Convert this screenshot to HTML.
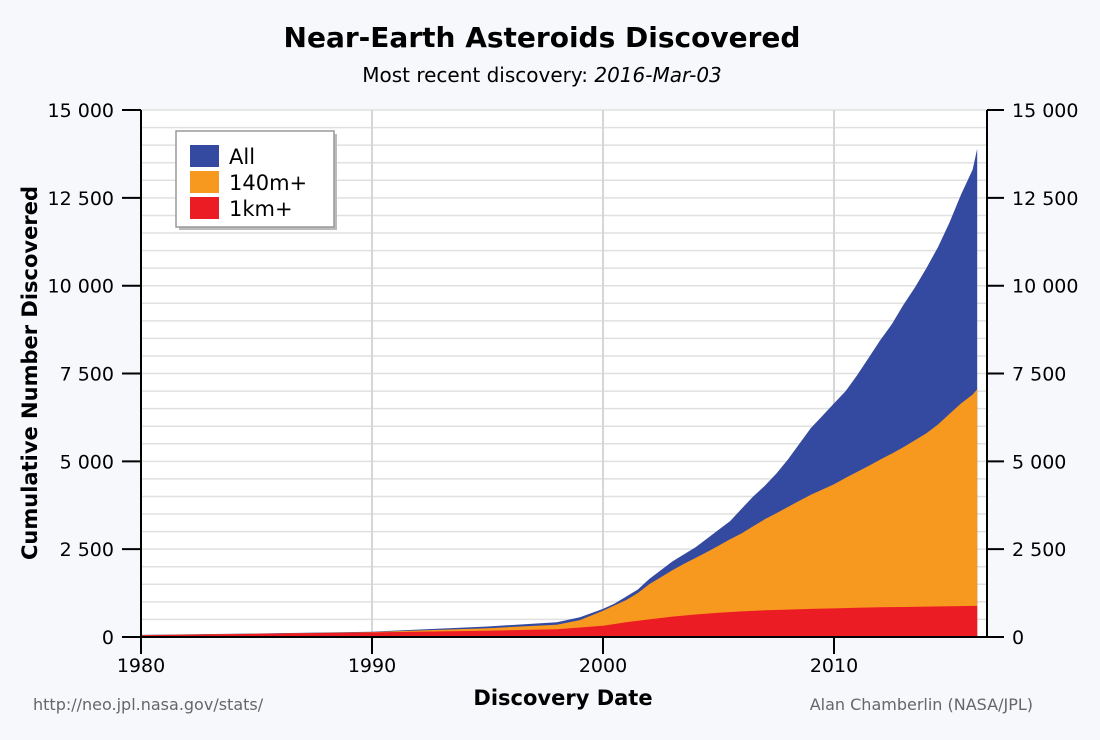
<!DOCTYPE html>
<html><head><meta charset="utf-8"><style>
html,body{margin:0;padding:0;background:#f7f8fc;}
svg{display:block;font-family:"DejaVu Sans","Liberation Sans",sans-serif;}
</style></head><body>
<svg id="s" width="1100" height="740" viewBox="0 0 1100 740">
<rect width="1100" height="740" fill="#f7f8fc"/>
<rect x="141" y="110" width="846" height="527" fill="#fff"/>
<g id="grid"></g>
<g id="areas"></g>
<line x1="141" y1="110" x2="141" y2="637" stroke="#000" stroke-width="2"/>
<line x1="987" y1="110" x2="987" y2="637" stroke="#000" stroke-width="2"/>
<line x1="122" y1="637" x2="1004" y2="637" stroke="#000" stroke-width="2"/>
<g id="ticks" font-size="19" fill="#000"></g>
<text x="542" y="47" text-anchor="middle" font-size="28" font-weight="bold">Near-Earth Asteroids Discovered</text>
<text x="542" y="82" text-anchor="middle" font-size="20">Most recent discovery: <tspan font-style="italic">2016-Mar-03</tspan></text>
<text x="563" y="705" text-anchor="middle" font-size="21" font-weight="bold">Discovery Date</text>
<text transform="translate(37,373) rotate(-90)" text-anchor="middle" font-size="21" font-weight="bold">Cumulative Number Discovered</text>
<text x="33" y="710" font-size="16" fill="#666">http://neo.jpl.nasa.gov/stats/</text>
<text x="1033" y="710" text-anchor="end" font-size="16" fill="#666">Alan Chamberlin (NASA/JPL)</text>
<rect x="179" y="134" width="158" height="96" fill="#bbb"/>
<rect x="176" y="131" width="158" height="96" fill="#fff" stroke="#999" stroke-width="1.5"/>
<rect x="190" y="145" width="29" height="22" fill="#344aa0"/>
<rect x="190" y="171" width="29" height="22" fill="#f7991f"/>
<rect x="190" y="197" width="29" height="22" fill="#ec1c24"/>
<text x="229" y="164" font-size="21">All</text>
<text x="229" y="190" font-size="21">140m+</text>
<text x="229" y="216" font-size="21">1km+</text>
</svg>
<script>
var X=function(y){return 141+(y-1980)*23.1},Y=function(v){return 637-v*0.03513};
var ns="http://www.w3.org/2000/svg";
function el(p,t,a){var e=document.createElementNS(ns,t);for(var k in a)e.setAttribute(k,a[k]);p.appendChild(e);return e;}
var g=document.getElementById('grid');
for(var v=500;v<=15000;v+=500)el(g,'line',{x1:141,x2:987,y1:Y(v),y2:Y(v),stroke:'#e0e0e0','stroke-width':1.5});
[1990,2000,2010].forEach(function(y){el(g,'line',{x1:X(y),x2:X(y),y1:110,y2:637,stroke:'#d6d6d6','stroke-width':2});});
var all=[[1980,60],[1985,100],[1990,150],[1995,300],[1998,420],[1999,560],[2000,800],[2000.5,950],[2001,1150],[2001.5,1350],[2002,1650],[2002.5,1900],[2003,2150],[2003.5,2350],[2004,2550],[2004.5,2800],[2005,3050],[2005.5,3300],[2006,3650],[2006.5,4000],[2007,4300],[2007.5,4650],[2008,5050],[2008.5,5500],[2009,5950],[2009.5,6300],[2010,6650],[2010.5,7000],[2011,7450],[2011.5,7950],[2012,8450],[2012.5,8900],[2013,9450],[2013.5,9950],[2014,10500],[2014.5,11100],[2015,11800],[2015.5,12600],[2016,13300],[2016.2,13900]];
var m=[[1980,55],[1985,95],[1990,140],[1995,250],[1998,350],[1999,480],[2000,750],[2000.5,900],[2001,1050],[2001.5,1250],[2002,1500],[2002.5,1700],[2003,1900],[2003.5,2080],[2004,2250],[2004.5,2420],[2005,2600],[2005.5,2780],[2006,2950],[2006.5,3150],[2007,3350],[2007.5,3520],[2008,3700],[2008.5,3880],[2009,4050],[2009.5,4200],[2010,4350],[2010.5,4530],[2011,4700],[2011.5,4870],[2012,5050],[2012.5,5220],[2013,5400],[2013.5,5600],[2014,5800],[2014.5,6050],[2015,6350],[2015.5,6650],[2016,6900],[2016.2,7050]];
var k=[[1980,50],[1985,90],[1990,130],[1995,180],[1998,220],[2000,320],[2001,420],[2002,500],[2003,580],[2004,640],[2005,690],[2006,730],[2007,760],[2008,780],[2009,800],[2010,815],[2011,830],[2012,845],[2013,855],[2014,865],[2015,875],[2016.2,885]];
var a=document.getElementById('areas');
[[all,'#344aa0'],[m,'#f7991f'],[k,'#ec1c24']].forEach(function(s){
 var d='M'+X(1980)+','+Y(0);s[0].forEach(function(p){d+=' L'+X(p[0]).toFixed(1)+','+Y(p[1]).toFixed(1);});
 d+=' L'+X(2016.2)+','+Y(0)+' Z';el(a,'path',{d:d,fill:s[1]});});
var t=document.getElementById('ticks');
for(var v=0;v<=15000;v+=2500){var y=Y(v),lab=v>=1000?(Math.floor(v/1000)+' '+String(v%1000).padStart(3,'0')):'0';
 el(t,'line',{x1:122,x2:141,y1:y,y2:y,stroke:'#000','stroke-width':2});
 el(t,'line',{x1:987,x2:1004,y1:y,y2:y,stroke:'#000','stroke-width':2});
 var e=el(t,'text',{x:114,y:y+7,'text-anchor':'end'});e.textContent=lab;
 e=el(t,'text',{x:1012,y:y+7});e.textContent=lab;}
[1980,1990,2000,2010].forEach(function(yr){var x=X(yr);el(t,'line',{x1:x,x2:x,y1:637,y2:654,stroke:'#000','stroke-width':2});
 var e=el(t,'text',{x:x,y:672,'text-anchor':'middle'});e.textContent=yr;});
</script>
</body></html>
